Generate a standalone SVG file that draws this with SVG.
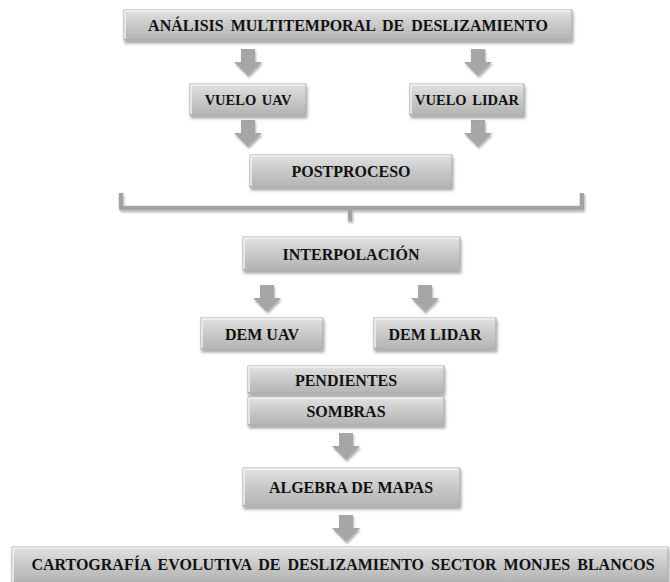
<svg xmlns="http://www.w3.org/2000/svg" width="670" height="582" viewBox="0 0 670 582">
<defs>
<linearGradient id="g" x1="0" y1="0" x2="0" y2="1">
<stop offset="0" stop-color="#e2e2e2"/>
<stop offset="0.5" stop-color="#c9c9c9"/>
<stop offset="1" stop-color="#b4b4b4"/>
</linearGradient>
<filter id="sh" x="-10%" y="-30%" width="120%" height="170%">
<feDropShadow dx="1" dy="3" stdDeviation="1.8" flood-color="#000" flood-opacity="0.35"/>
</filter>
<filter id="sh2" x="-10%" y="-30%" width="120%" height="170%">
<feDropShadow dx="1" dy="2" stdDeviation="1.2" flood-color="#000" flood-opacity="0.3"/>
</filter>
<path id="arr" d="M-7,0 H7 V13 H14 L0,27 L-14,13 H-7 Z"/>
</defs>
<style>
.box{fill:url(#g);stroke:#a8a8a8;stroke-width:1;filter:url(#sh)}
.hl{fill:none;stroke:#f2f2f2;stroke-width:1.5}
.t{font-weight:bold;font-size:16px;fill:#111;text-anchor:middle}
.s{font-size:14.5px}
.a{fill:#a6a6a6;filter:url(#sh2)}
.br{fill:none;stroke:#a3a3a3;stroke-width:4.5;stroke-linejoin:round;filter:url(#sh2)}
</style>
<rect width="670" height="582" fill="#ffffff"/>
<g id="connectors">
<use href="#arr" class="a" x="248" y="49"/>
<use href="#arr" class="a" x="478" y="49"/>
<use href="#arr" class="a" x="248" y="120"/>
<use href="#arr" class="a" x="478" y="120"/>
<path class="br" d="M121,193 V208 H350 V221 M350,208 H582 V193"/>
<use href="#arr" class="a" x="267" y="285"/>
<use href="#arr" class="a" x="425" y="285"/>
<use href="#arr" class="a" x="346" y="433"/>
<use href="#arr" class="a" x="346" y="515"/>
</g>
<g font-family="Liberation Serif, Times New Roman, serif">
<g id="n-analisis"><rect class="box" x="124" y="10" width="448" height="30"/><path class="hl" d="M125,39 V11 H571"/><text class="t" font-family="Liberation Serif, serif" x="348" y="30.5" word-spacing="3">ANÁLISIS MULTITEMPORAL DE DESLIZAMIENTO</text></g>
<g id="n-vuelo-uav"><rect class="box" x="190" y="84" width="116" height="31"/><path class="hl" d="M191,114 V85 H305"/><text class="t s" font-family="Liberation Serif, serif" x="248" y="105" word-spacing="2">VUELO UAV</text></g>
<g id="n-vuelo-lidar"><rect class="box" x="410" y="84" width="114" height="31"/><path class="hl" d="M411,114 V85 H523"/><text class="t s" font-family="Liberation Serif, serif" x="467" y="105" word-spacing="2">VUELO LIDAR</text></g>
<g id="n-postproceso"><rect class="box" x="250" y="155" width="202" height="32"/><path class="hl" d="M251,186 V156 H451"/><text class="t" font-family="Liberation Serif, serif" x="351" y="176.5">POSTPROCESO</text></g>
<g id="n-interpolacion"><rect class="box" x="243" y="237" width="217" height="33"/><path class="hl" d="M244,269 V238 H459"/><text class="t" font-family="Liberation Serif, serif" x="351" y="259.5">INTERPOLACIÓN</text></g>
<g id="n-dem-uav"><rect class="box" x="201" y="318" width="122" height="31"/><path class="hl" d="M202,348 V319 H322"/><text class="t" font-family="Liberation Serif, serif" x="262" y="339.5">DEM UAV</text></g>
<g id="n-dem-lidar"><rect class="box" x="374" y="318" width="122" height="31"/><path class="hl" d="M375,348 V319 H495"/><text class="t" font-family="Liberation Serif, serif" x="435" y="339.5">DEM LIDAR</text></g>
<g id="n-pendientes"><rect class="box" x="248" y="366" width="196" height="27"/><path class="hl" d="M249,392 V367 H443"/><text class="t" font-family="Liberation Serif, serif" x="346" y="385.5">PENDIENTES</text></g>
<g id="n-sombras"><rect class="box" x="248" y="397" width="196" height="28"/><path class="hl" d="M249,424 V398 H443"/><text class="t" font-family="Liberation Serif, serif" x="346" y="416.5">SOMBRAS</text></g>
<g id="n-algebra"><rect class="box" x="243" y="468" width="217" height="38"/><path class="hl" d="M244,505 V469 H459"/><text class="t" font-family="Liberation Serif, serif" x="351" y="492.5">ALGEBRA DE MAPAS</text></g>
<g id="n-cartografia"><rect class="box" x="12" y="547" width="656" height="35"/><path class="hl" d="M13,582 V548 H667"/><text class="t" font-family="Liberation Serif, serif" x="343" y="569.5" word-spacing="3">CARTOGRAFÍA EVOLUTIVA DE DESLIZAMIENTO SECTOR MONJES BLANCOS</text></g>
</g>
</svg>
